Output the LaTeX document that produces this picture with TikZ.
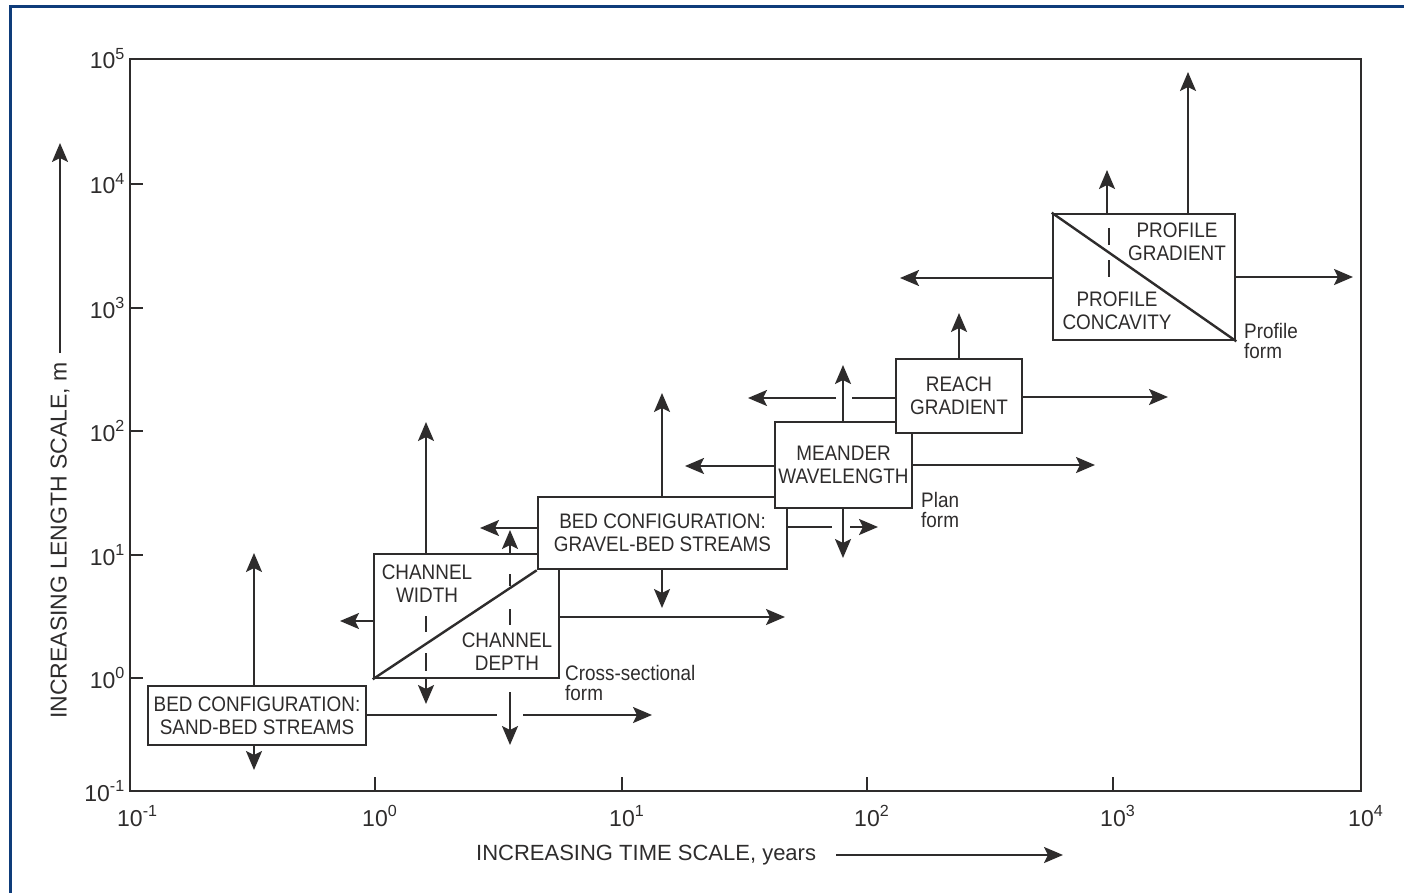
\documentclass[tikz,border=0pt]{standalone}
\usepackage{fontspec}
\setmainfont{Liberation Sans}
\newfontfamily\cnd[FakeStretch=0.9]{Liberation Sans}
\usetikzlibrary{arrows.meta}
\definecolor{ink}{HTML}{2E2C2C}
\definecolor{frameblue}{HTML}{0E3C7A}
\begin{document}
\begin{tikzpicture}[x=1pt,y=-1pt,
  line/.style={draw=ink,line width=2.4pt},
  arr/.style={draw=ink,line width=2.4pt,-{Stealth[length=19pt,width=16pt,inset=4pt]}},
  box/.style={draw=ink,line width=2.6pt,fill=white,inner sep=0pt,align=center,text=ink,font=\cnd\fontsize{21}{23}\selectfont},
  btxt/.style={inner sep=0pt,align=center,text=ink,font=\cnd\fontsize{21}{23}\selectfont},
  small/.style={inner sep=0pt,align=left,text=ink,font=\cnd\fontsize{21}{20}\selectfont},
  ticklbl/.style={inner sep=0pt,text=ink,font=\fontsize{23}{25}\selectfont},
  ttl/.style={inner sep=0pt,text=ink,font=\fontsize{22}{24}\selectfont}]
\useasboundingbox (0,0) rectangle (1404,893);
\draw[frameblue,line width=3pt] (10,893) -- (10,7) -- (1404,7);

% plot frame
\node[draw=ink,line width=2.4pt,minimum width=1231pt,minimum height=732pt,inner sep=0pt] (plot) at (745.5,425) {};
\foreach \y in {184,308,431,555,678} \draw[line] (130,\y) -- (143,\y);
\foreach \x in {375,622,867,1113} \draw[line] (\x,791) -- (\x,777);
\foreach \y/\e in {59/5,184/4,308/3,431/2,555/1,678/0,791/-1}
  \node[ticklbl,anchor=base east] at (125,\y+10) {10\textsuperscript{\e}};
\foreach \x/\e in {130/-1,375/0,622/1,867/2,1113/3,1361/4}
  \node[ticklbl,anchor=base] at (\x,826) {10\rlap{\textsuperscript{\e}}};

% axis titles
\node[ttl,anchor=west] (xt) at (476,855) {INCREASING TIME SCALE, years};
\coordinate (xa) at (1063,855);
\draw[arr] ([xshift=20pt]xt.east) -- (xa);
\node[ttl,font=\fontsize{23}{25}\selectfont,rotate=90,anchor=west] (yt) at (60,719) {INCREASING LENGTH SCALE, m};
\coordinate (ya) at (60,143);
\draw[arr] ([yshift=9pt]yt.east) -- (ya);

% boxes
\node[box,minimum width=218pt,minimum height=59pt] (sand) at (257,715.5) {BED CONFIGURATION:\\SAND-BED STREAMS};
\node[box,minimum width=185pt,minimum height=124pt] (chan) at (466.5,616) {};
\node[box,minimum width=249pt,minimum height=72pt] (grav) at (662.5,533) {BED CONFIGURATION:\\GRAVEL-BED STREAMS};
\draw[line] (chan.south west) -- (grav.south west);
\node[box,minimum width=137pt,minimum height=86pt] (mean) at (843.5,465) {MEANDER\\WAVELENGTH};
\node[box,minimum width=126pt,minimum height=74pt] (reach) at (959,396) {REACH\\GRADIENT};
\node[box,minimum width=182pt,minimum height=126pt] (prof) at (1144,277) {};
\draw[line] (prof.north west) -- (prof.south east);

% texts inside split boxes
\node[btxt] (cw) at (427,584) {CHANNEL\\WIDTH};
\node[btxt] (cdp) at (507,652) {CHANNEL\\DEPTH};
\node[btxt] (pg) at (1177,242) {PROFILE\\GRADIENT};
\node[btxt] (pc) at (1117,311) {PROFILE\\CONCAVITY};

% side labels
\node[small,anchor=west] (xs) at (565,683) {Cross-sectional\\form};
\node[small,anchor=west] (pf) at (921,510) {Plan\\form};
\node[small,anchor=west] (prf) at (1244,341) {Profile\\form};

% sand-bed connectors
\coordinate (sU) at (254,553);
\coordinate (sD) at (254,770);
\coordinate (sR1) at (497,715);
\coordinate (sR2) at (523,715);
\coordinate (sR) at (652,715);
\draw[arr] (sand.north -| sU) -- (sU);
\draw[arr] (sand.south -| sD) -- (sD);
\draw[line] (sand.east |- sR1) -- (sR1);
\draw[arr] (sR2) -- (sR);

% channel connectors
\coordinate (cU) at (426,422);
\coordinate (cD) at (426,704);
\coordinate (cU2) at (510,530);
\coordinate (cD2a) at (510,692);
\coordinate (cD2) at (510,745);
\coordinate (cL) at (340,621);
\coordinate (cR) at (785,617);
\draw[arr] (chan.north -| cU) -- (cU);
\draw[arr] (chan.south -| cD) -- (cD);
\draw[arr] (chan.north -| cU2) -- (cU2);
\draw[arr] (cD2a) -- (cD2);
\draw[arr] (chan.west |- cL) -- (cL);
\draw[arr] (chan.east |- cR) -- (cR);
\draw[line] (426,616) -- (426,632) (426,653) -- (426,671);
\draw[line] (510,574) -- (510,586) (510,609) -- (510,625);

% gravel connectors
\coordinate (gL) at (480,528);
\coordinate (gU) at (662,393);
\coordinate (gD) at (662,608);
\coordinate (gR1) at (832,527);
\coordinate (gR2) at (850,527);
\coordinate (gR) at (878,527);
\draw[arr] (grav.west |- gL) -- (gL);
\draw[arr] (grav.north -| gU) -- (gU);
\draw[arr] (grav.south -| gD) -- (gD);
\draw[line] (grav.east |- gR1) -- (gR1);
\draw[arr] (gR2) -- (gR);

% meander connectors
\coordinate (mL) at (685,466);
\coordinate (mR) at (1095,465);
\coordinate (mU) at (843,365);
\coordinate (mD) at (843,558);
\draw[arr] (mean.west |- mL) -- (mL);
\draw[arr] (mean.east |- mR) -- (mR);
\draw[arr] (mean.north -| mU) -- (mU);
\draw[arr] (mean.south -| mD) -- (mD);

% reach connectors
\coordinate (rL1) at (852,398);
\coordinate (rL2) at (836,398);
\coordinate (rL) at (748,398);
\coordinate (rR) at (1168,397);
\coordinate (rU) at (959,313);
\draw[line] (reach.west |- rL1) -- (rL1);
\draw[arr] (rL2) -- (rL);
\draw[arr] (reach.east |- rR) -- (rR);
\draw[arr] (reach.north -| rU) -- (rU);

% profile connectors
\coordinate (pL) at (900,278);
\coordinate (pR) at (1353,277);
\coordinate (pU1) at (1107,170);
\coordinate (pU2) at (1188,72);
\draw[arr] (prof.west |- pL) -- (pL);
\draw[arr] (prof.east |- pR) -- (pR);
\draw[arr] (prof.north -| pU1) -- (pU1);
\draw[arr] (prof.north -| pU2) -- (pU2);
\draw[line] (1109,228) -- (1109,245) (1109,260) -- (1109,277);
\end{tikzpicture}
\end{document}
